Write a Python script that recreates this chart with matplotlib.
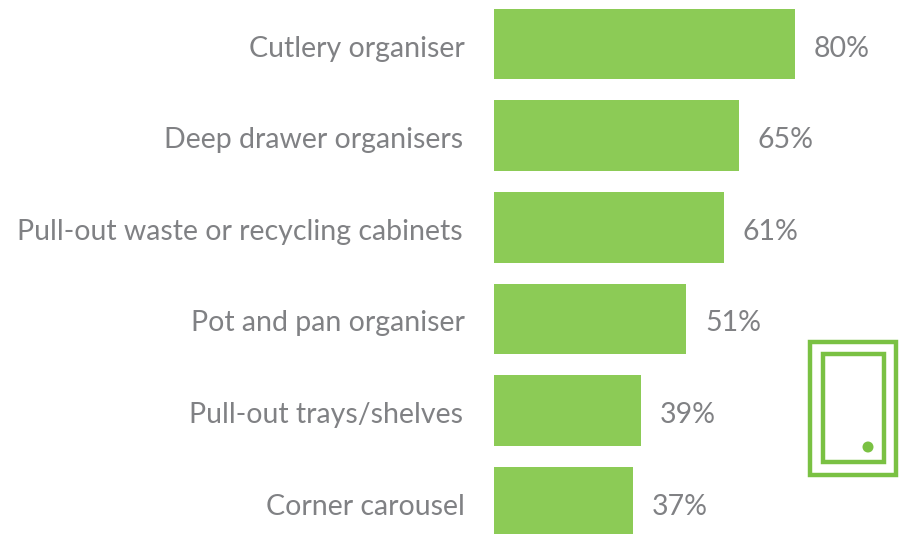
import matplotlib
matplotlib.use('Agg')
import matplotlib.pyplot as plt
from matplotlib.patches import Rectangle, Circle

categories = ['Cutlery organiser', 'Deep drawer organisers', 'Pull-out waste or recycling cabinets',
              'Pot and pan organiser', 'Pull-out trays/shelves', 'Corner carousel']
values = [80, 65, 61, 51, 39, 37]
value_labels = ['80%', '65%', '61%', '51%', '39%', '37%']

green = '#8CCB56'
icon_green = '#7AC143'
grey = '#808184'

plt.rcParams['font.family'] = ['Lato', 'DejaVu Sans']

fig = plt.figure(figsize=(9.07, 5.34), dpi=100)
ax = fig.add_axes([0, 0, 1, 1])
ax.set_xlim(0, 907)
ax.set_ylim(534, 0)
ax.axis('off')

scale = 301 / 80
x0 = 494
# label right edges are not quite aligned in the original
label_right = [465, 463, 463, 465, 463, 465]
for i in range(len(values)):
    y = 8.8 + i * 91.6
    h = 70.5
    w = values[i] * scale
    ax.add_patch(Rectangle((x0, y), w, h, fc=green, ec='none'))
    ax.text(label_right[i], y + h / 2 + 4.5, categories[i], ha='right', va='center', fontsize=20.5, color=grey)
    ax.text(x0 + w + 19, y + h / 2 + 4.5, value_labels[i], ha='left', va='center', fontsize=20.5, color=grey)

# door icon
ax.add_patch(Rectangle((810, 342), 86, 133, fc='none', ec=icon_green, lw=3.2))
ax.add_patch(Rectangle((823, 354), 60.5, 108, fc='none', ec=icon_green, lw=3.2))
ax.add_patch(Circle((868, 447), 5.5, fc=icon_green, ec='none'))

fig.savefig('out.png', dpi=100)
